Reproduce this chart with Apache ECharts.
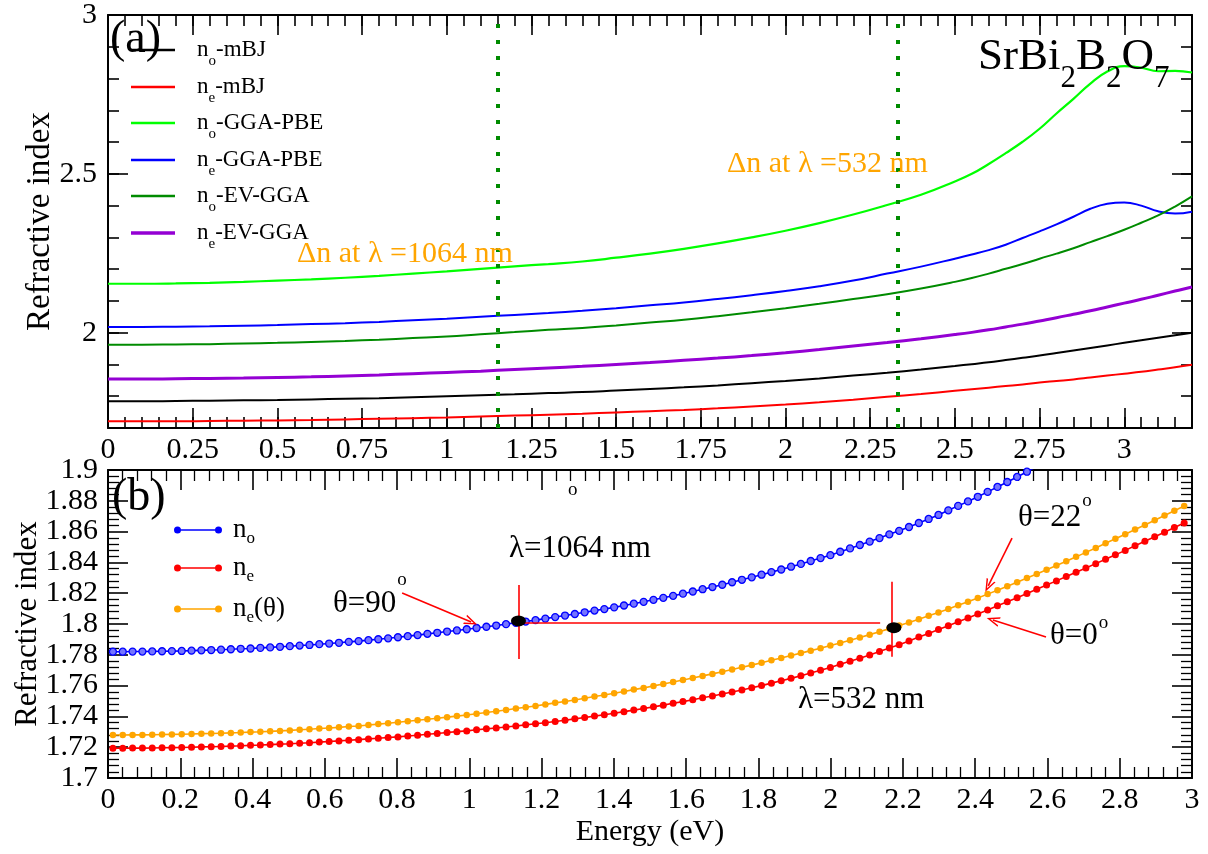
<!DOCTYPE html>
<html><head><meta charset="utf-8">
<script src="https://cdn.jsdelivr.net/npm/echarts@6/dist/echarts.min.js"></script>
<style>html,body{margin:0;padding:0;background:#fff}#c{width:1208px;height:854px}</style>
</head><body><div id="c"></div>
<script>
// ---------- Panel (a) data ----------
const energyA = [0,0.1,0.2,0.3,0.4,0.5,0.6,0.7,0.8,0.9,1.0,1.1,1.2,1.3,1.4,1.5,1.6,1.7,1.8,1.9,2.0,2.1,2.2,2.3,2.4,2.5,2.55,2.6,2.65,2.7,2.75,2.8,2.85,2.9,2.95,3.0,3.05,3.1,3.15,3.2];
const noMBJ = [1.784,1.784,1.785,1.786,1.787,1.788,1.790,1.792,1.794,1.797,1.800,1.803,1.806,1.810,1.813,1.818,1.823,1.828,1.834,1.841,1.848,1.856,1.865,1.874,1.884,1.895,1.901,1.907,1.914,1.921,1.928,1.936,1.944,1.952,1.960,1.968,1.976,1.984,1.992,2.000];
const neMBJ = [1.721,1.721,1.721,1.722,1.723,1.724,1.725,1.727,1.729,1.731,1.733,1.736,1.739,1.742,1.745,1.749,1.753,1.757,1.762,1.768,1.774,1.781,1.789,1.798,1.807,1.817,1.822,1.827,1.832,1.837,1.843,1.848,1.853,1.859,1.865,1.871,1.877,1.884,1.891,1.899];
const noPBE = [2.154,2.154,2.155,2.157,2.160,2.164,2.168,2.173,2.179,2.186,2.193,2.201,2.209,2.216,2.224,2.236,2.249,2.264,2.281,2.300,2.321,2.345,2.372,2.402,2.434,2.476,2.500,2.531,2.565,2.601,2.642,2.690,2.736,2.784,2.822,2.839,2.834,2.823,2.824,2.819];
const nePBE = [2.018,2.018,2.019,2.020,2.022,2.024,2.027,2.030,2.034,2.039,2.044,2.050,2.056,2.062,2.069,2.077,2.086,2.095,2.106,2.118,2.131,2.146,2.164,2.186,2.208,2.233,2.246,2.260,2.277,2.298,2.319,2.341,2.365,2.390,2.406,2.410,2.400,2.382,2.375,2.381];
const noEV = [1.962,1.962,1.963,1.964,1.966,1.968,1.971,1.974,1.978,1.983,1.988,1.995,2.002,2.009,2.015,2.023,2.032,2.041,2.052,2.064,2.077,2.091,2.106,2.121,2.139,2.160,2.172,2.186,2.201,2.216,2.233,2.249,2.266,2.285,2.304,2.324,2.346,2.369,2.397,2.429];
const neEV = [1.854,1.854,1.855,1.856,1.857,1.859,1.861,1.864,1.867,1.871,1.875,1.879,1.884,1.889,1.894,1.900,1.906,1.913,1.920,1.928,1.937,1.947,1.958,1.969,1.981,1.994,2.001,2.009,2.018,2.027,2.037,2.047,2.058,2.069,2.081,2.093,2.105,2.118,2.131,2.144];
const lambdaLinesA = [1.15, 2.33];
const ticksAX = [0,0.25,0.5,0.75,1,1.25,1.5,1.75,2,2.25,2.5,2.75,3];
const ticksAY = [2,2.5,3];

// ---------- Panel (b) data ----------
const energyB = [0.0136,0.0408,0.0680,0.0952,0.1224,0.1496,0.1768,0.2040,0.2312,0.2584,0.2856,0.3128,0.3400,0.3672,0.3944,0.4216,0.4488,0.4760,0.5032,0.5304,0.5576,0.5848,0.6120,0.6392,0.6664,0.6936,0.7208,0.7480,0.7752,0.8024,0.8296,0.8568,0.8840,0.9112,0.9384,0.9656,0.9928,1.0200,1.0472,1.0744,1.1016,1.1288,1.1560,1.1832,1.2104,1.2376,1.2648,1.2920,1.3192,1.3464,1.3736,1.4008,1.4280,1.4552,1.4824,1.5096,1.5368,1.5640,1.5912,1.6184,1.6456,1.6728,1.7000,1.7272,1.7544,1.7816,1.8088,1.8360,1.8632,1.8904,1.9176,1.9448,1.9720,1.9992,2.0264,2.0536,2.0808,2.1080,2.1352,2.1624,2.1896,2.2168,2.2440,2.2712,2.2984,2.3256,2.3528,2.3800,2.4072,2.4344,2.4616,2.4888,2.5160,2.5432,2.5704,2.5976,2.6248,2.6520,2.6792,2.7064,2.7336,2.7608,2.7880,2.8152,2.8424,2.8696,2.8968,2.9240,2.9512,2.9784];
const nO = [1.7820,1.7820,1.7821,1.7821,1.7822,1.7823,1.7824,1.7825,1.7827,1.7829,1.7831,1.7833,1.7836,1.7839,1.7841,1.7845,1.7848,1.7852,1.7856,1.7860,1.7864,1.7869,1.7873,1.7878,1.7884,1.7889,1.7895,1.7901,1.7907,1.7914,1.7921,1.7928,1.7936,1.7943,1.7951,1.7958,1.7966,1.7974,1.7982,1.7990,1.7999,1.8008,1.8016,1.8025,1.8035,1.8045,1.8055,1.8065,1.8076,1.8087,1.8097,1.8108,1.8120,1.8132,1.8144,1.8157,1.8170,1.8183,1.8197,1.8211,1.8226,1.8240,1.8255,1.8271,1.8287,1.8303,1.8320,1.8337,1.8354,1.8372,1.8390,1.8409,1.8428,1.8447,1.8469,1.8491,1.8513,1.8535,1.8558,1.8582,1.8605,1.8630,1.8656,1.8682,1.8708,1.8738,1.8767,1.8796,1.8826,1.8858,1.8890,1.8922,1.8955,1.8989,1.9023,1.9057,1.9090,1.9122,1.9155,1.9189,1.9227,1.9265,1.9303,1.9343,1.9384,1.9424,1.9465,1.9508,1.9552,1.9595];
const nE = [1.7193,1.7193,1.7194,1.7194,1.7195,1.7196,1.7197,1.7198,1.7200,1.7202,1.7203,1.7205,1.7207,1.7209,1.7212,1.7214,1.7217,1.7220,1.7222,1.7226,1.7229,1.7233,1.7237,1.7241,1.7245,1.7249,1.7254,1.7258,1.7263,1.7267,1.7273,1.7278,1.7284,1.7289,1.7295,1.7301,1.7306,1.7313,1.7319,1.7325,1.7331,1.7338,1.7345,1.7352,1.7359,1.7367,1.7375,1.7384,1.7393,1.7402,1.7411,1.7420,1.7431,1.7441,1.7451,1.7462,1.7473,1.7485,1.7496,1.7508,1.7521,1.7533,1.7545,1.7559,1.7572,1.7586,1.7600,1.7616,1.7632,1.7647,1.7664,1.7682,1.7700,1.7717,1.7738,1.7758,1.7778,1.7799,1.7821,1.7844,1.7866,1.7890,1.7915,1.7939,1.7964,1.7989,1.8014,1.8039,1.8065,1.8091,1.8118,1.8144,1.8171,1.8198,1.8225,1.8253,1.8280,1.8308,1.8336,1.8364,1.8392,1.8421,1.8449,1.8478,1.8508,1.8537,1.8567,1.8596,1.8626,1.8656];
const nTheta = [1.7279,1.7279,1.7280,1.7280,1.7281,1.7282,1.7283,1.7284,1.7286,1.7288,1.7289,1.7291,1.7293,1.7295,1.7298,1.7300,1.7303,1.7306,1.7309,1.7313,1.7317,1.7321,1.7325,1.7329,1.7334,1.7338,1.7344,1.7350,1.7356,1.7362,1.7368,1.7375,1.7381,1.7388,1.7395,1.7402,1.7409,1.7417,1.7425,1.7433,1.7442,1.7451,1.7459,1.7468,1.7478,1.7488,1.7497,1.7507,1.7518,1.7529,1.7539,1.7550,1.7562,1.7574,1.7585,1.7598,1.7610,1.7623,1.7636,1.7649,1.7663,1.7676,1.7690,1.7704,1.7719,1.7733,1.7748,1.7764,1.7779,1.7795,1.7811,1.7827,1.7843,1.7860,1.7877,1.7895,1.7913,1.7931,1.7950,1.7970,1.7990,1.8010,1.8031,1.8053,1.8074,1.8097,1.8121,1.8145,1.8169,1.8194,1.8219,1.8245,1.8271,1.8298,1.8325,1.8352,1.8380,1.8408,1.8436,1.8465,1.8494,1.8524,1.8553,1.8583,1.8613,1.8643,1.8674,1.8704,1.8735,1.8766];
// phase-matching annotation points (energy, index)
const matchPoints = [[1.136, 1.8020], [2.175, 1.7976]];
const vLine1 = [[1.138, 1.8253], [1.138, 1.7773]];
const vLine2 = [[2.169, 1.8275], [2.169, 1.7788]];
const hLine = [[1.136, 1.8008], [2.137, 1.8008]];
const arrow90 = [[0.814, 1.8201], [1.005, 1.8013]];
const arrow22 = [[2.502, 1.8558], [2.436, 1.8247]];
const arrow0 = [[2.596, 1.7916], [2.449, 1.8026]];

// ---------- styling ----------
const FONT = '"Liberation Serif","Times New Roman",serif';
const pairs = (xs, ys) => xs.map((x, i) => [x, ys[i]]);
const fmt = v => String(+(+v).toFixed(4));
const ARROW = 'path://M5,0L10,12L8.4,12L5,3.6L1.6,12L0,12Z';

function mkAxis(o) {
  const a = {
    type: 'value', gridIndex: o.grid, position: o.pos, min: o.min, max: o.max, interval: o.interval,
    splitLine: {show: false},
    axisLine: {show: o.line !== false, onZero: false, lineStyle: {color: '#000', width: 2}},
    axisTick: {show: true, inside: true, length: o.tickLen || 20, lineStyle: {color: '#000', width: 1.6}},
    axisLabel: {show: !!o.labels, color: '#000', fontFamily: FONT, fontSize: 30, margin: o.margin || 8, formatter: fmt},
    minorTick: {show: !!o.minor, splitNumber: o.minor || 5, length: 11, lineStyle: {color: '#000', width: 1.3}},
    nameMoveOverlap: false
  };
  if (o.customTicks) { a.axisTick.customValues = o.customTicks; a.axisLabel.customValues = o.customTicks; }
  if (o.name) {
    a.name = o.name; a.nameLocation = 'middle'; a.nameGap = o.nameGap;
    a.nameTextStyle = {fontFamily: FONT, fontSize: o.nameSize, color: '#000'};
  }
  return a;
}

const xAxes = [
  mkAxis({grid: 0, pos: 'bottom', min: 0, max: 3.2, interval: 0.05, customTicks: ticksAX, labels: true, margin: 7}),
  mkAxis({grid: 0, pos: 'bottom', min: 0, max: 3.2, interval: 0.05, line: false, tickLen: 11}),
  mkAxis({grid: 0, pos: 'top', min: 0, max: 3.2, interval: 0.05, customTicks: ticksAX}),
  mkAxis({grid: 0, pos: 'top', min: 0, max: 3.2, interval: 0.05, line: false, tickLen: 11}),
  mkAxis({grid: 1, pos: 'bottom', min: 0, max: 3, interval: 0.2, minor: 5, labels: true, margin: 7,
          name: 'Energy (eV)', nameGap: 39, nameSize: 30}),
  mkAxis({grid: 1, pos: 'top', min: 0, max: 3, interval: 0.2, minor: 5})
];
const yAxes = [
  mkAxis({grid: 0, pos: 'left', min: 1.7, max: 3, interval: 0.1, customTicks: ticksAY, labels: true, margin: 11,
          name: 'Refractive index', nameGap: 51, nameSize: 33}),
  mkAxis({grid: 0, pos: 'left', min: 1.7, max: 3, interval: 0.1, line: false, tickLen: 11}),
  mkAxis({grid: 0, pos: 'right', min: 1.7, max: 3, interval: 0.1, customTicks: ticksAY}),
  mkAxis({grid: 0, pos: 'right', min: 1.7, max: 3, interval: 0.1, line: false, tickLen: 11}),
  mkAxis({grid: 1, pos: 'left', min: 1.7, max: 1.9, interval: 0.02, minor: 5, labels: true, margin: 10,
          name: 'Refractive index', nameGap: 65, nameSize: 31}),
  mkAxis({grid: 1, pos: 'right', min: 1.7, max: 1.9, interval: 0.02, minor: 5})
];

const seriesAStyle = [
  {name: 'no-mBJ', data: noMBJ, color: '#000000', width: 2},
  {name: 'ne-mBJ', data: neMBJ, color: '#ff0000', width: 2},
  {name: 'no-GGA-PBE', data: noPBE, color: '#00ff00', width: 2.2},
  {name: 'ne-GGA-PBE', data: nePBE, color: '#0000ff', width: 2},
  {name: 'no-EV-GGA', data: noEV, color: '#008b00', width: 2},
  {name: 'ne-EV-GGA', data: neEV, color: '#9400d3', width: 3}
];
const series = seriesAStyle.map((s, i) => ({
  type: 'line', name: s.name, xAxisIndex: 0, yAxisIndex: 0, data: pairs(energyA, s.data),
  symbol: 'none', smooth: 0.45, lineStyle: {color: s.color, width: s.width},
  itemStyle: {color: s.color}, z: 3,
  markLine: i === 0 ? {
    silent: true, symbol: ['none', 'none'], label: {show: false}, animation: false,
    lineStyle: {color: '#008b00', width: 4, type: [4, 12], cap: 'butt'},
    emphasis: {disabled: true},
    data: lambdaLinesA.map(v => ({xAxis: v}))
  } : undefined
}));

const seg = (p, q, head) => [
  {coord: p[0], symbol: 'none'},
  {coord: p[1], symbol: head ? ARROW : 'none', symbolSize: [10, 13]}
];
series.push({
  type: 'line', name: 'ne(θ)', xAxisIndex: 4, yAxisIndex: 4, data: pairs(energyB, nTheta),
  symbol: 'circle', symbolSize: 6.5, showAllSymbol: true,
  lineStyle: {color: '#ffa500', width: 1.6}, itemStyle: {color: '#ffa500'}, z: 3
});
series.push({
  type: 'line', name: 'ne', xAxisIndex: 4, yAxisIndex: 4, data: pairs(energyB, nE),
  symbol: 'circle', symbolSize: 7, showAllSymbol: true,
  lineStyle: {color: '#ff0000', width: 1.6}, itemStyle: {color: '#ff0000'}, z: 3,
  markLine: {
    silent: true, label: {show: false}, animation: false, emphasis: {disabled: true},
    lineStyle: {color: '#ff0000', width: 1.6, type: 'solid'},
    data: [seg(vLine1), seg(vLine2), seg(hLine), seg(arrow90, 0, true), seg(arrow22, 0, true), seg(arrow0, 0, true)]
  }
});
series.push({
  type: 'line', name: 'no', xAxisIndex: 4, yAxisIndex: 4, data: pairs(energyB, nO),
  symbol: 'circle', symbolSize: 7, showAllSymbol: true,
  lineStyle: {color: '#0000ff', width: 1.6}, itemStyle: {color: '#7474ff', borderColor: '#0000ff', borderWidth: 1.3}, z: 3,
  markPoint: {
    silent: true, symbol: 'circle', symbolSize: [15, 11], label: {show: false}, animation: false,
    itemStyle: {color: '#000'},
    data: matchPoints.map(p => ({coord: p}))
  }
});

// legends (one component per entry so rows can be placed exactly)
const legA = seriesAStyle.map((s, i) => ({
  data: [{name: s.name, itemStyle: {color: s.color, borderWidth: 0}}], orient: 'vertical', left: 131,
  top: [31.5, 68.5, 104.5, 141.5, 177.5, 214.5][i],
  padding: 0, itemWidth: 44, itemHeight: s.width + 0.4, icon: 'rect', selectedMode: false,
  formatter: n => '{sp|}{n|n}{s|' + n[1] + '}{t|' + n.slice(2) + '}',
  textStyle: {color: '#000', fontFamily: FONT, fontSize: 23, rich: {
    sp: {width: 17}, n: {fontSize: 23, lineHeight: 26, fontFamily: FONT},
    s: {fontSize: 15, lineHeight: 15, padding: [22, 0, 0, 0], fontFamily: FONT},
    t: {fontSize: 23, lineHeight: 26, fontFamily: FONT}}}
}));
const legBNames = ['no', 'ne', 'ne(θ)'];
const legBColors = ['#0000ff', '#ff0000', '#ffa500'];
const legB = legBNames.map((nm, i) => ({
  data: [{name: nm, itemStyle: {color: legBColors[i], borderWidth: 0}}],
  left: 174, top: [512.5, 550.5, 591.5][i], padding: 0, itemWidth: 48, itemHeight: 7, selectedMode: false,
  icon: 'path://M0,3.5a3.5,3.5 0 1,1 7,0a3.5,3.5 0 1,1 -7,0zM41,3.5a3.5,3.5 0 1,1 7,0a3.5,3.5 0 1,1 -7,0zM3.5,2.7h41v1.6h-41z',
  formatter: n => '{sp|}{n|n}{s|' + n[1] + '}' + (n.length > 2 ? '{t|' + n.slice(2) + '}' : ''),
  textStyle: {color: '#000', fontFamily: FONT, fontSize: 27, rich: {
    sp: {width: 6}, n: {fontSize: 27, lineHeight: 30, fontFamily: FONT},
    s: {fontSize: 17, lineHeight: 17, padding: [18, 0, 0, 0], fontFamily: FONT},
    t: {fontSize: 27, lineHeight: 30, fontFamily: FONT}}}
}));

const txt = (x, y, text, size, fill, rich) => ({
  type: 'text', x, y, z: 100, silent: true,
  style: {text, fontFamily: FONT, fontSize: size, fill: fill || '#000', align: 'left', verticalAlign: 'middle', rich}
});
const supRich = (pad) => ({m: {fontSize: 31, lineHeight: 31, fontFamily: FONT}, p: {fontSize: 19, lineHeight: 19, padding: [0, 0, pad, 1], fontFamily: FONT}});

const graphic = [
  txt(110, 40, '(a)', 46),
  txt(112, 498, '(b)', 46),
  txt(978, 57, '{m|SrBi}{s|2}{m|B}{s|2}{m|O}{s|7}', 45, '#000', {
    m: {fontSize: 45, lineHeight: 45, fontFamily: FONT},
    s: {fontSize: 31, lineHeight: 31, padding: [44, 0, 0, 0], fontFamily: FONT}}),
  txt(297, 254, 'Δn at λ =1064 nm', 30, '#ffa500'),
  txt(727, 164, 'Δn at λ =532 nm', 30, '#ffa500'),
  txt(509, 549, 'λ=1064 nm', 31),
  txt(798, 700, 'λ=532 nm', 31),
  txt(333, 604, '{m|θ=90}{p|o}', 31, '#000', supRich(48)),
  txt(1018, 518, '{m|θ=22}{p|o}', 31, '#000', supRich(34)),
  txt(1050, 636, '{m|θ=0}{p|o}', 31, '#000', supRich(26)),
  txt(568, 490, 'o', 19)
];

const chart = echarts.init(document.getElementById('c'), null, {renderer: 'canvas'});
chart.setOption({
  animation: false,
  backgroundColor: '#fff',
  textStyle: {fontFamily: FONT},
  grid: [
    {left: 108, top: 15, width: 1084, height: 413, containLabel: false, outerBoundsMode: 'none'},
    {left: 108, top: 470, width: 1084, height: 308, containLabel: false, outerBoundsMode: 'none'}
  ],
  xAxis: xAxes, yAxis: yAxes,
  legend: legA.concat(legB),
  series, graphic
});
</script></body></html>
